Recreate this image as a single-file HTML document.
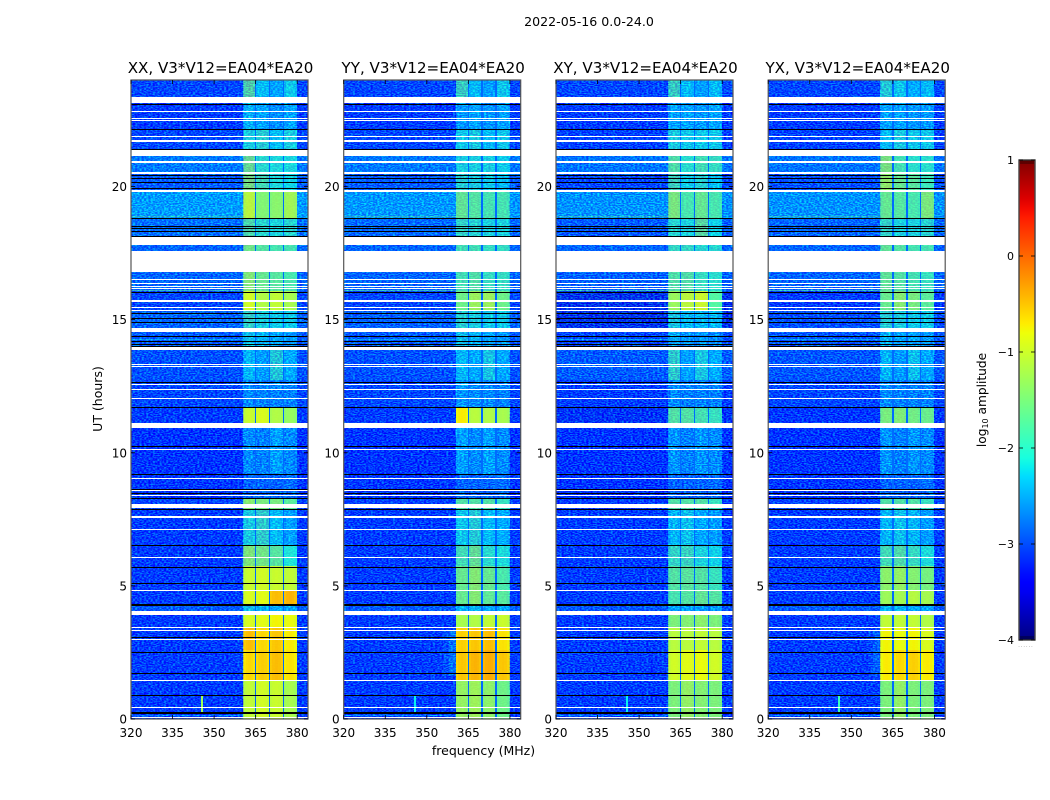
<!DOCTYPE html>
<html lang="en">
<head>
<meta charset="utf-8">
<title>2022-05-16 0.0-24.0</title>
<style>
html,body{margin:0;padding:0;background:#fff;width:1050px;height:800px;overflow:hidden}
svg{display:block}
text{font-family:"DejaVu Sans","Liberation Sans",sans-serif;fill:#000}
</style>
</head>
<body>
<svg id="fig" xmlns="http://www.w3.org/2000/svg" width="1050" height="800" viewBox="0 0 1050 800">
  <defs>
    <!-- purely decorative speckle; carries no data -->
    <filter id="speckle1" x="0" y="0" width="100%" height="100%" color-interpolation-filters="sRGB"><feTurbulence type="fractalNoise" baseFrequency="0.45 0.9" numOctaves="1" seed="3"/><feColorMatrix type="matrix" values="0 0 0 0 0  3 0 0 0 -1.1  0 0 0 0 1  0 0 0 0 0.5"/></filter>
    <filter id="speckle2" x="0" y="0" width="100%" height="100%" color-interpolation-filters="sRGB"><feTurbulence type="fractalNoise" baseFrequency="0.45 0.9" numOctaves="1" seed="11"/><feColorMatrix type="matrix" values="0 0 0 0 0  3 0 0 0 -1.1  0 0 0 0 1  0 0 0 0 0.5"/></filter>
    <filter id="speckle3" x="0" y="0" width="100%" height="100%" color-interpolation-filters="sRGB"><feTurbulence type="fractalNoise" baseFrequency="0.45 0.9" numOctaves="1" seed="23"/><feColorMatrix type="matrix" values="0 0 0 0 0  3 0 0 0 -1.1  0 0 0 0 1  0 0 0 0 0.5"/></filter>
    <filter id="speckle4" x="0" y="0" width="100%" height="100%" color-interpolation-filters="sRGB"><feTurbulence type="fractalNoise" baseFrequency="0.45 0.9" numOctaves="1" seed="37"/><feColorMatrix type="matrix" values="0 0 0 0 0  3 0 0 0 -1.1  0 0 0 0 1  0 0 0 0 0.5"/></filter>
    <linearGradient id="jetGradient" x1="0" y1="1" x2="0" y2="0"></linearGradient>
  </defs>
  <text x="589" y="26" font-size="12.6" text-anchor="middle">2022-05-16 0.0-24.0</text>
  <text x="102" y="399" font-size="12.5" text-anchor="middle" transform="rotate(-90 102 399)">UT (hours)</text>
  <text x="483.5" y="755" font-size="12.5" text-anchor="middle">frequency (MHz)</text>
  <text x="986" y="400" font-size="12.2" text-anchor="middle" transform="rotate(-90 986 400)">log<tspan font-size="8" dy="2">10</tspan><tspan dy="-2"> amplitude</tspan></text>
</svg>
<script>
// ---- data (log10 amplitude, hours, MHz) ----
const panelNames = ['XX', 'YY', 'XY', 'YX'];
const panelTitles = ['XX, V3*V12=EA04*EA20', 'YY, V3*V12=EA04*EA20', 'XY, V3*V12=EA04*EA20', 'YX, V3*V12=EA04*EA20'];
const freqTicks = [320, 335, 350, 365, 380];
const hourTicks = [0, 5, 10, 15, 20];
const colorbarTicks = [-4, -3, -2, -1, 0, 1];
const subbandEdges = [360.5, 365, 370, 375, 380];
const channelShape = [-0.08, -0.02, 0, -0.02, -0.08];
const subbandGapLevel = -2.85;
const timeEdges = [0,1.46,2.59,3.44,3.91,4.28,4.85,5.75,6.54,7.89,8.3,9.2,10.93,11.72,12.73,13.86,14.53,15.36,16.08,16.83,17.8,18.14,18.82,19.79,20.47,21.15,22.12,23.14,24];

const backgroundXX = [-3.3,-3.3,-3.3,-3.3,-3.0,-3.3,-3.3,-3.3,-3.3,-3.2,-3.35,-3.4,-3.3,-3.2,-3.1,-3.0,-2.9,-3.2,-2.9,-2.9,-2.7,-2.8,-2.35,-3.0,-2.7,-3.2,-3.3,-3.2];
const backgroundYY = [-3.3,-3.3,-3.3,-3.3,-3.0,-3.3,-3.3,-3.3,-3.3,-3.25,-3.35,-3.4,-3.3,-3.2,-3.1,-3.0,-2.95,-3.2,-2.9,-2.9,-2.7,-2.85,-2.4,-3.0,-2.7,-3.2,-3.3,-3.2];
const backgroundXY = [-3.3,-3.3,-3.3,-3.3,-3.05,-3.3,-3.3,-3.3,-3.3,-3.3,-3.4,-3.4,-3.5,-3.3,-3.0,-3.2,-3.6,-3.6,-2.95,-2.9,-2.75,-3.0,-2.45,-3.2,-2.75,-3.25,-3.3,-3.2];
const backgroundYX = [-3.3,-3.3,-3.3,-3.3,-3.0,-3.3,-3.3,-3.3,-3.3,-3.25,-3.35,-3.4,-3.35,-3.2,-3.05,-3.05,-3.1,-3.3,-2.9,-2.9,-2.75,-2.9,-2.45,-3.1,-2.75,-3.25,-3.3,-3.2];

const bandsXX = [[-1.05,-0.95,-1.0,-1.2],[-0.6,-0.55,-0.45,-0.65],[-0.45,-0.6,-0.5,-0.7],[-0.9,-0.85,-0.75,-0.8],[-2.1,-2.2,-2.3,-2.3],[-0.9,-0.85,-0.45,-0.4],[-1.0,-0.95,-1.0,-1.05],[-1.3,-1.4,-1.6,-2.0],[-2.0,-1.8,-2.2,-2.4],[-1.3,-1.4,-1.4,-1.6],[-2.9,-2.9,-2.9,-2.8],[-2.5,-2.6,-2.3,-2.5],[-1.0,-0.9,-1.15,-1.3],[-2.5,-2.6,-2.6,-2.6],[-2.2,-2.4,-1.9,-2.3],[-2.1,-2.2,-2.3,-2.4],[-1.8,-2.0,-2.1,-2.1],[-0.95,-1.15,-1.05,-1.2],[-1.3,-1.5,-1.6,-1.7],[-1.4,-1.6,-1.7,-1.7],[-2.3,-2.3,-2.4,-2.4],[-1.6,-1.9,-2.0,-1.9],[-1.05,-1.4,-1.35,-1.2],[-1.3,-1.7,-2.0,-2.1],[-1.4,-1.9,-2.0,-2.0],[-2.0,-1.9,-2.2,-2.0],[-2.2,-2.3,-2.5,-2.3],[-1.5,-2.2,-2.4,-2.1]];
const bandsYY = [[-1.25,-1.2,-1.3,-1.5],[-0.5,-0.4,-0.35,-0.5],[-0.55,-0.5,-0.45,-0.65],[-1.2,-1.15,-1.05,-1.0],[-2.2,-2.2,-2.3,-2.3],[-1.5,-1.3,-1.55,-1.6],[-1.5,-1.3,-1.5,-1.7],[-1.7,-1.45,-1.9,-2.0],[-2.1,-1.9,-2.2,-2.3],[-1.6,-1.6,-1.6,-1.8],[-2.9,-2.9,-2.9,-2.8],[-2.3,-2.5,-2.3,-2.5],[-0.7,-1.1,-1.15,-1.2],[-2.4,-2.5,-2.5,-2.6],[-2.2,-2.3,-2.0,-2.3],[-2.1,-2.2,-2.3,-2.4],[-1.9,-2.0,-2.1,-2.1],[-1.5,-1.2,-1.2,-1.5],[-1.7,-1.6,-1.8,-1.8],[-1.7,-1.7,-1.8,-1.8],[-2.3,-2.3,-2.4,-2.4],[-1.8,-1.9,-2.0,-2.0],[-1.5,-1.6,-1.7,-1.7],[-1.9,-2.0,-2.1,-2.2],[-2.0,-2.0,-2.0,-2.1],[-2.1,-2.0,-2.2,-2.1],[-2.4,-2.3,-2.4,-2.3],[-1.7,-2.2,-2.4,-2.1]];
const bandsXY = [[-1.4,-1.25,-1.35,-1.4],[-0.95,-0.85,-0.8,-0.95],[-1.1,-1.1,-1.05,-1.1],[-1.4,-1.35,-1.3,-1.4],[-2.3,-2.3,-2.4,-2.4],[-1.7,-1.6,-1.5,-1.6],[-1.6,-1.55,-1.6,-1.8],[-1.8,-1.75,-2.0,-2.1],[-2.2,-2.1,-2.3,-2.4],[-1.6,-1.6,-1.6,-1.8],[-2.9,-2.9,-2.9,-2.8],[-2.4,-2.6,-2.4,-2.5],[-1.6,-1.6,-1.7,-1.8],[-2.5,-2.6,-2.6,-2.6],[-1.8,-2.4,-2.0,-2.3],[-2.2,-2.4,-2.4,-2.5],[-2.0,-2.2,-2.2,-2.2],[-1.25,-1.05,-0.95,-1.7],[-1.6,-1.6,-1.8,-1.9],[-1.8,-1.8,-1.9,-1.9],[-2.3,-2.3,-2.4,-2.4],[-1.9,-2.0,-1.5,-2.1],[-1.35,-1.7,-1.5,-1.7],[-1.7,-2.1,-1.9,-2.2],[-1.6,-1.9,-1.7,-1.8],[-2.0,-2.1,-2.1,-2.1],[-2.3,-2.3,-2.4,-2.3],[-1.7,-2.2,-2.4,-2.2]];
const bandsYX = [[-1.4,-1.25,-1.4,-1.4],[-0.7,-0.6,-0.55,-0.7],[-0.75,-0.8,-0.75,-0.9],[-1.05,-1.05,-1.05,-1.15],[-2.2,-2.2,-2.3,-2.3],[-1.25,-1.2,-1.1,-1.2],[-1.3,-1.25,-1.35,-1.45],[-1.7,-1.6,-1.8,-2.0],[-2.2,-2.1,-2.2,-2.4],[-1.6,-1.6,-1.6,-1.8],[-2.9,-2.9,-2.9,-2.8],[-2.4,-2.6,-2.4,-2.5],[-1.4,-1.35,-1.45,-1.5],[-2.5,-2.6,-2.6,-2.6],[-2.2,-2.4,-2.1,-2.3],[-2.2,-2.3,-2.3,-2.4],[-1.9,-2.0,-2.1,-2.1],[-1.5,-1.3,-1.4,-1.6],[-1.5,-1.6,-1.7,-1.8],[-1.5,-1.6,-1.7,-1.7],[-2.3,-2.3,-2.4,-2.4],[-1.8,-2.0,-2.0,-1.9],[-1.5,-1.6,-1.7,-1.35],[-1.2,-1.5,-1.6,-1.8],[-1.3,-1.7,-1.9,-1.9],[-2.2,-2.0,-2.1,-2.1],[-2.3,-2.3,-2.4,-2.4],[-1.9,-2.1,-2.3,-2.2]];

const whiteGapStarts = [23.12,22.80,22.54,22.46,21.86,21.69,21.15,20.90,20.47,19.78,17.80,16.80,16.49,16.34,16.23,16.15,15.68,15.44,15.32,14.52,14.16,13.86,13.30,13.22,12.54,12.34,12.04,10.94,10.10,9.01,8.56,8.38,7.92,7.55,7.10,6.05,4.81,3.91,3.42,3.31,2.97,1.41,0.41,0.02];
const whiteGapEnds = [23.37,22.84,22.57,22.50,21.90,21.73,21.37,20.96,20.54,19.87,18.11,17.58,16.53,16.39,16.28,16.19,15.72,15.47,15.36,14.70,14.20,13.96,13.33,13.26,12.58,12.39,12.07,11.11,10.14,9.05,8.60,8.41,8.09,7.62,7.14,6.08,4.85,4.07,3.46,3.34,3.00,1.48,0.45,0.06];
const blackLineHours = [23.11,22.16,21.40,20.45,20.33,20.16,19.95,18.80,18.52,18.43,18.34,18.14,16.05,15.24,15.07,14.90,14.38,14.21,14.08,14.01,12.67,11.71,10.27,9.20,8.63,8.50,8.31,7.90,6.54,5.70,5.10,4.31,4.28,3.09,2.51,1.72,0.89,0.26,0.21];

const hotRowHours = [18.32,18.86,14.05,14.27,16.1,0.12];
const hotRowLevels = [-1.6,-1.7,-2.0,-2.3,-1.7,-2.6];

const spikeStartHour = 0.28;
const spikeEndHour = 0.9;
const spikeStartMHz = 345.2;
const spikeEndMHz = 346;
const spikeLevels = [-1.3, -2.2, -2.2, -1.9];

const glowStartHour = 1.6;
const glowEndHour = 3.35;
const glowFreqEdges = [354, 356, 358, 360.5];
const glowLevelsYY = [-3.3, -3.1, -2.8];
const glowLevelsYX = [-3.35, -3.2, -2.95];
const glowLevelsXX = [-3.35, -3.3, -3.25];
const glowLevelsXY = [-3.35, -3.3, -3.25];

const backgroundByPanel = [backgroundXX, backgroundYY, backgroundXY, backgroundYX];
const bandsByPanel = [bandsXX, bandsYY, bandsXY, bandsYX];
const glowByPanel = [glowLevelsXX, glowLevelsYY, glowLevelsXY, glowLevelsYX];

// ---- geometry & scales ----
const SVGNS = 'http://www.w3.org/2000/svg';
const fig = document.getElementById('fig');
const panelLefts = [131, 343.7, 556, 768.2];
const plotWidth = 177, plotTop = 80, plotBottom = 719;
const freqMin = 320, freqMax = 383.9, hourMin = 0, hourMax = 24;
function xScale(p, f) { return panelLefts[p] + (f - freqMin) / (freqMax - freqMin) * plotWidth; }
function yScale(h) { return plotBottom - (h - hourMin) / (hourMax - hourMin) * (plotBottom - plotTop); }

const cbLeft = 1019, cbRight = 1035, cbTop = 160, cbBottom = 640, levelMin = -4, levelMax = 1;
function cbScale(v) { return cbBottom - (v - levelMin) / (levelMax - levelMin) * (cbBottom - cbTop); }

// jet colormap
const jetR = [[0,0],[.35,0],[.66,1],[.89,1],[1,.5]];
const jetG = [[0,0],[.125,0],[.375,1],[.64,1],[.91,0],[1,0]];
const jetB = [[0,.5],[.11,1],[.34,1],[.65,0],[1,0]];
function interp(t, c) {
  for (let i = 1; i < c.length; i++) {
    if (t <= c[i][0]) return c[i-1][1] + (t - c[i-1][0]) / (c[i][0] - c[i-1][0]) * (c[i][1] - c[i-1][1]);
  }
  return c[c.length-1][1];
}
function jet(v) {
  const t = Math.max(0, Math.min(1, (v - levelMin) / (levelMax - levelMin)));
  return 'rgb(' + [jetR, jetG, jetB].map(c => Math.round(interp(t, c) * 255)).join(',') + ')';
}

function mk(tag, attrs, parent) {
  const el = document.createElementNS(SVGNS, tag);
  for (const k in attrs) el.setAttribute(k, attrs[k]);
  (parent || fig).appendChild(el);
  return el;
}
function cell(g, p, f0, f1, h0, h1, level) {
  const x0 = Math.round(xScale(p, f0)), x1 = Math.round(xScale(p, f1));
  const y0 = Math.round(yScale(h1)), y1 = Math.round(yScale(h0));
  return mk('rect', { x: x0, y: y0, width: Math.max(1, x1 - x0), height: Math.max(1, y1 - y0), fill: jet(level) }, g);
}

panelNames.forEach((name, p) => {
  const key = name.toLowerCase();
  const panel = mk('g', {});
  
  
  const cells = mk('g', { 'shape-rendering': 'crispEdges' }, panel);
  
  

  const bg = backgroundByPanel[p], bands = bandsByPanel[p];
  const bandX0 = xScale(p, subbandEdges[0]), bandX1 = xScale(p, subbandEdges[4]);

  for (let r = 0; r < timeEdges.length - 1; r++) {
    const h0 = timeEdges[r], h1 = timeEdges[r + 1];
    const left = cell(cells, p, freqMin, subbandEdges[0], h0, h1, bg[r]);
    
    
    const right = cell(cells, p, subbandEdges[4], freqMax, h0, h1, bg[r]);
    
    
    for (let s = 0; s < 4; s++) {
      const f0 = subbandEdges[s], f1 = subbandEdges[s + 1];
      const step = (f1 - f0) / channelShape.length;
      channelShape.forEach((off, c) => {
        const chan = cell(cells, p, f0 + c * step, f0 + (c + 1) * step, h0, h1, bands[r][s] + off);
        
        
      });
    }
  }

  // hot interference rows
  hotRowHours.forEach((h, i) => {
    const a = cell(cells, p, freqMin, subbandEdges[0], h - 0.02, h + 0.02, hotRowLevels[i]);
    
    
  });
  // glow below the band edge
  glowByPanel[p].forEach((lv, i) => {
    const g = cell(cells, p, glowFreqEdges[i], glowFreqEdges[i + 1], glowStartHour, glowEndHour, lv);
    
    
  });

  // decorative speckle
  const filterRef = 'url(#speckle' + (p + 1) + ')';
  const noiseLeft = mk('rect', { x: panelLefts[p], y: plotTop, width: bandX0 - panelLefts[p], height: plotBottom - plotTop, filter: filterRef }, panel);
  
  
  const noiseRight = mk('rect', { x: bandX1, y: plotTop, width: panelLefts[p] + plotWidth - bandX1, height: plotBottom - plotTop, filter: filterRef }, panel);
  
  
  // band speckle: dim rows are noisier than bright ones
  for (let r = 0; r < timeEdges.length - 1; r++) {
    const y0 = Math.round(yScale(timeEdges[r + 1])), y1 = Math.round(yScale(timeEdges[r]));
    const mean = bands[r].reduce((a, b) => a + b, 0) / bands[r].length;
    const op = Math.max(0.03, Math.min(1, (-1.1 - mean) * 0.75));
    const noiseBand = mk('rect', { x: bandX0, y: y0, width: bandX1 - bandX0, height: y1 - y0, filter: filterRef, opacity: op }, panel);
    
    
  }

  const over = mk('g', { 'shape-rendering': 'crispEdges' }, panel);
  
  

  // gaps between subbands
  subbandEdges.slice(1, 4).forEach(f => {
    const g = cell(over, p, f - 0.3, f + 0.3, hourMin, hourMax, subbandGapLevel);
    
    
  });

  // narrow RFI spike
  const spike = cell(over, p, spikeStartMHz, spikeEndMHz, spikeStartHour, spikeEndHour, spikeLevels[p]);
  
  

  whiteGapStarts.forEach((h0, i) => {
    const y0 = Math.round(yScale(whiteGapEnds[i])), y1 = Math.round(yScale(h0));
    const w = mk('rect', { x: panelLefts[p], y: y0, width: plotWidth, height: Math.max(1, y1 - y0), fill: '#fff' }, over);
    
    
  });
  blackLineHours.forEach(h => {
    const b = mk('rect', { x: panelLefts[p], y: Math.round(yScale(h)), width: plotWidth, height: 1, fill: '#000' }, over);
    
    
  });

  // frame
  const frame = mk('rect', { x: panelLefts[p], y: plotTop, width: plotWidth, height: plotBottom - plotTop, fill: 'none', stroke: '#555', 'stroke-width': 1.2 }, panel);
  
  

  // ticks & labels
  freqTicks.forEach(f => {
    const x = xScale(p, f);
    const t1 = mk('line', { x1: x, x2: x, y1: plotBottom, y2: plotBottom - 4, stroke: '#000', 'stroke-width': 0.8 }, panel);
    
    
    const t2 = mk('line', { x1: x, x2: x, y1: plotTop, y2: plotTop + 4, stroke: '#000', 'stroke-width': 0.8 }, panel);
    
    
    const lab = mk('text', { x: x, y: 737, 'font-size': 12, 'text-anchor': 'middle' }, panel);
    
    
    lab.textContent = f;
  });
  hourTicks.forEach(h => {
    const y = yScale(h);
    const t1 = mk('line', { x1: panelLefts[p], x2: panelLefts[p] + 4, y1: y, y2: y, stroke: '#000', 'stroke-width': 0.8 }, panel);
    
    
    const t2 = mk('line', { x1: panelLefts[p] + plotWidth - 4, x2: panelLefts[p] + plotWidth, y1: y, y2: y, stroke: '#000', 'stroke-width': 0.8 }, panel);
    
    
    const lab = mk('text', { x: panelLefts[p] - 4, y: y + 4.5, 'font-size': 12, 'text-anchor': 'end' }, panel);
    
    
    lab.textContent = h;
  });

  const title = mk('text', { x: panelLefts[p] + plotWidth / 2 + 1, y: 73, 'font-size': 15.1, 'text-anchor': 'middle' }, panel);
  
  
  title.textContent = panelTitles[p];
});

// ---- colorbar ----
const grad = document.getElementById('jetGradient');
for (let i = 0; i <= 50; i++) {
  const stop = mk('stop', { offset: (i * 2) + '%', 'stop-color': jet(levelMin + (levelMax - levelMin) * i / 50) }, grad);
}
const cb = mk('g', {});


const cbRect = mk('rect', { x: cbLeft, y: cbTop, width: cbRight - cbLeft, height: cbBottom - cbTop, fill: 'url(#jetGradient)', stroke: '#444', 'stroke-width': 1.4 }, cb);


colorbarTicks.forEach(v => {
  const y = cbScale(v);
  const t1 = mk('line', { x1: cbLeft, x2: cbLeft + 4, y1: y, y2: y, stroke: '#000', 'stroke-width': 0.8 }, cb);
  
  
  const t2 = mk('line', { x1: cbRight - 4, x2: cbRight, y1: y, y2: y, stroke: '#000', 'stroke-width': 0.8 }, cb);
  
  
  const lab = mk('text', { x: 1014, y: y + 4, 'font-size': 11, 'text-anchor': 'end' }, cb);
  
  
  lab.textContent = String(v).replace('-', '\u2212');
});
[0, 1, 2, 3, 4, 5, 6].forEach(i => {
  const x = cbLeft + 2 + i * 2;
  const a = mk('line', { x1: x, x2: x, y1: cbTop, y2: cbTop + 4, stroke: '#000', 'stroke-width': 0.6 }, cb);
  
  
  const b = mk('line', { x1: x, x2: x, y1: cbBottom, y2: cbBottom - 4, stroke: '#000', 'stroke-width': 0.6 }, cb);
  
  
});
const dots = mk('text', { x: 1026, y: 647, 'font-size': 5, 'text-anchor': 'middle', 'letter-spacing': '1', style: 'fill:#777' }, cb);


dots.textContent = '......';
</script>
</body>
</html>
